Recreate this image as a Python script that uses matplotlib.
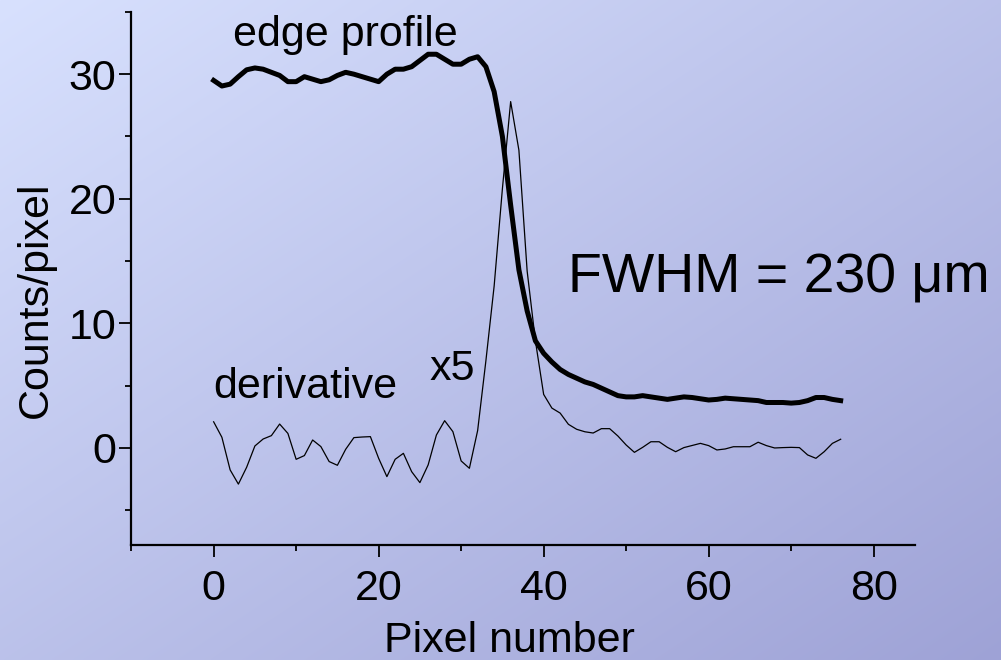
import numpy as np
import matplotlib
matplotlib.use("Agg")
import matplotlib.pyplot as plt
from matplotlib.ticker import MultipleLocator

# pixel index along the profile
pixels = np.arange(77)

# edge profile (counts/pixel)
edge = [29.5, 29.05, 29.2, 29.8, 30.35, 30.5, 30.4, 30.15, 29.9, 29.4,
        29.4, 29.8, 29.6, 29.4, 29.55, 29.9, 30.15, 30.0, 29.8, 29.6,
        29.4, 30.0, 30.4, 30.4, 30.6, 31.1, 31.6, 31.6, 31.2, 30.8,
        30.8, 31.2, 31.4, 30.6, 28.6, 25.0, 19.5, 14.3, 11.0, 8.6,
        7.6, 6.9, 6.3, 5.9, 5.6, 5.3, 5.1, 4.8, 4.5, 4.2,
        4.1, 4.1, 4.2, 4.1, 4.0, 3.9, 4.0, 4.1, 4.05, 3.95,
        3.85, 3.9, 4.0, 3.95, 3.9, 3.85, 3.8, 3.65, 3.65, 3.65,
        3.6, 3.65, 3.8, 4.05, 4.05, 3.9, 3.8]

# derivative of the edge profile, scaled x5
deriv = [2.1, 0.86, -1.76, -2.9, -1.55, 0.16, 0.72, 0.99, 1.92, 1.17,
         -0.91, -0.61, 0.64, 0.11, -1.09, -1.39, -0.11, 0.83, 0.88, 0.91,
         -0.83, -2.3, -0.91, -0.43, -1.9, -2.78, -1.36, 1.04, 2.19, 1.31,
         -1.04, -1.63, 1.4, 7.0, 13.0, 20.8, 27.8, 23.9, 14.2, 8.6,
         4.3, 3.2, 2.8, 1.9, 1.5, 1.3, 1.2, 1.55, 1.55, 0.96,
         0.24, -0.35, 0.05, 0.5, 0.5, 0.05, -0.3, 0.03, 0.2, 0.37,
         0.19, -0.16, -0.08, 0.1, 0.1, 0.1, 0.46, 0.19, 0.0, 0.03,
         0.05, 0.03, -0.56, -0.83, -0.3, 0.37, 0.7]

plt.rcParams['font.family'] = ['Liberation Sans', 'DejaVu Sans']

fig = plt.figure(figsize=(10.01, 6.6), dpi=100)

# diagonal background gradient
bg = fig.add_axes([0, 0, 1, 1], zorder=-1)
h, w = 330, 500
yy, xx = np.mgrid[0:h, 0:w]
t = (xx / w + yy / h) / 2.0
c0 = np.array([216, 225, 254]) / 255.0
c1 = np.array([158, 162, 214]) / 255.0
img = c0[None, None, :] + (c1 - c0)[None, None, :] * t[:, :, None]
bg.imshow(img, aspect="auto", extent=[0, 1, 0, 1], interpolation="bilinear")
bg.axis("off")

ax = fig.add_axes([0.131, 0.174, 0.783, 0.808])
ax.set_facecolor("none")

ax.plot(pixels, edge, color="black", lw=3.6, solid_joinstyle="round")
ax.plot(pixels, deriv, color="black", lw=0.9)

ax.set_xlim(-10, 85)
ax.set_ylim(-7.8, 35)
ax.xaxis.set_major_locator(MultipleLocator(20))
ax.xaxis.set_minor_locator(MultipleLocator(10))
ax.yaxis.set_major_locator(MultipleLocator(10))
ax.yaxis.set_minor_locator(MultipleLocator(5))

for s in ["top", "right"]:
    ax.spines[s].set_visible(False)
for s in ["left", "bottom"]:
    ax.spines[s].set_linewidth(1.6)

ax.tick_params(which="major", length=8.5, width=1.3, labelsize=31)
ax.tick_params(which="minor", length=4.5, width=1.3)
ax.tick_params(axis="x", which="major", pad=9)
ax.tick_params(axis="y", which="major", pad=2)

ax.set_xlabel("Pixel number", fontsize=31)
ax.set_ylabel("Counts/pixel", fontsize=31)
ax.xaxis.set_label_coords(0.483, -0.18)
ax.xaxis.label.set_va("center")
ax.yaxis.set_label_coords(-0.122, 0.46)
ax.yaxis.label.set_va("center")

ax.text(2.3, 32.3, "edge profile", fontsize=31, ha="left", va="baseline")
ax.text(-0.1, 4.0, "derivative", fontsize=31, ha="left", va="baseline")
ax.text(26.2, 5.45, "x5", fontsize=31, ha="left", va="baseline")
ax.text(43.0, 12.5, "FWHM = 230 \u03bcm", fontsize=40, ha="left", va="baseline")

fig.savefig("out.png", dpi=100)
